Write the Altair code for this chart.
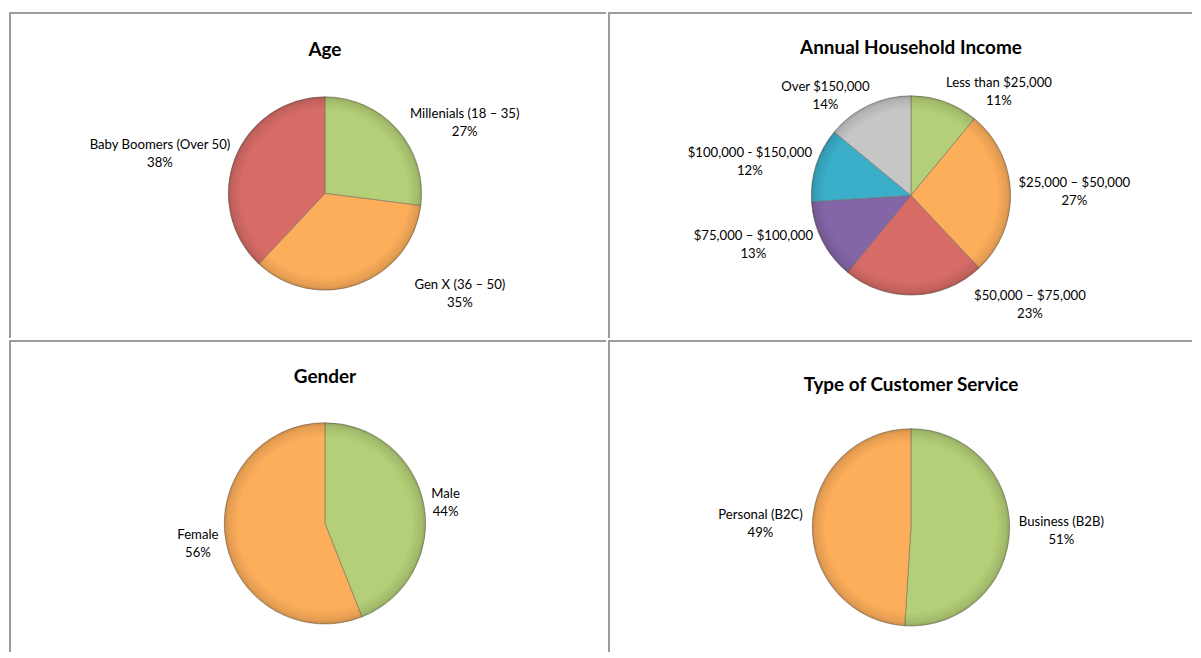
import altair as alt
import pandas as pd

# ---- data ----
age_names = ["Millenials (18 – 35)", "Gen X (36 – 50)", "Baby Boomers (Over 50)"]
age_values = [27, 35, 38]

income_names = ["Less than $25,000", "$25,000 –  $50,000", "$50,000 – $75,000",
                "$75,000 – $100,000", "$100,000 - $150,000", "Over $150,000"]
income_values = [11, 27, 23, 13, 12, 14]

gender_names = ["Male", "Female"]
gender_values = [44, 56]

service_names = ["Business (B2B)", "Personal (B2C)"]
service_values = [51, 49]

# ---- style ----
PALETTE = ["#B4CF77", "#FDAE5B", "#D76C67", "#8466A8", "#3BAFCA", "#C6C6C6"]
BORDER = "#9b9b9b"
FONT = "Lato"
LABEL_SIZE = 13.2
TITLE_SIZE = 19
CHAR_HALF = 3.0   # approx half width of one label character, px
GAP = 10          # distance of label anchor from pie rim
BOTTOM_PUSH = 65  # extra sideways shift for labels below the pie

COL_W = [599, 586]
ROW_H = [327, 313]


def panel(title, names, values, w, h, cx, cy, r, ty):
    df = pd.DataFrame({"name": names, "value": values, "idx": list(range(len(names)))})
    base = alt.Chart(df)

    one = alt.InlineData(values=[{"k": 0}])

    left = alt.Chart(one).mark_rule(color=BORDER, strokeWidth=2).encode(
        x=alt.value(1), y=alt.value(0), y2=alt.value(h))
    top = alt.Chart(one).mark_rule(color=BORDER, strokeWidth=2).encode(
        x=alt.value(0), x2=alt.value(w), y=alt.value(1))

    arcs = base.mark_arc(radius=r, stroke="#6f6a5e", strokeWidth=0.8, strokeOpacity=0.7).encode(
        x=alt.value(cx), y=alt.value(cy),
        theta=alt.Theta("value:Q", stack=True),
        order=alt.Order("idx:Q"),
        color=alt.Color("name:N", scale=alt.Scale(domain=names, range=PALETTE[:len(names)]),
                        legend=None),
    )

    shade = alt.Chart(one).mark_arc(
        radius=r, theta=0, theta2=6.2832,
        fill={"gradient": "radial", "x1": 0.5, "y1": 0.5, "r1": 0,
              "x2": 0.5, "y2": 0.5, "r2": 0.5,
              "stops": [{"offset": 0, "color": "rgba(0,0,0,0)"},
                        {"offset": 0.86, "color": "rgba(0,0,0,0)"},
                        {"offset": 0.97, "color": "rgba(0,0,0,0.10)"},
                        {"offset": 1, "color": "rgba(0,0,0,0.22)"}]},
    ).encode(x=alt.value(cx), y=alt.value(cy))

    lab = base.transform_window(
        cum="sum(value)", sort=[alt.SortField("idx")]
    ).transform_joinaggregate(
        total="sum(value)"
    ).transform_calculate(
        pct="datum.value + '%'",
        mid="(datum.cum - datum.value/2) / datum.total * 2 * PI",
    ).transform_calculate(
        hw=f"max(length(datum.name), length(datum.pct)) * {CHAR_HALF}",
        side="sin(datum.mid) >= 0 ? 1 : -1",
        low=f"{BOTTOM_PUSH} * pow(max(0, -cos(datum.mid)), 3)",
    ).transform_calculate(
        lx=f"{cx} + {r + GAP} * sin(datum.mid) + datum.side * (datum.hw + datum.low)",
        ly=f"{cy} - {r + GAP} * cos(datum.mid)",
    )
    enc = dict(x=alt.X("lx:Q", scale=None, axis=None), y=alt.Y("ly:Q", scale=None, axis=None))
    lab1 = lab.mark_text(font=FONT, fontSize=LABEL_SIZE, color="#000", dy=-9,
                         align="center", baseline="middle").encode(text="name:N", **enc)
    lab2 = lab.mark_text(font=FONT, fontSize=LABEL_SIZE, color="#000", dy=9,
                         align="center", baseline="middle").encode(text="pct:N", **enc)

    ttl = alt.Chart(one).mark_text(font=FONT, fontSize=TITLE_SIZE, fontWeight="bold",
                                   color="#000", align="center", baseline="middle").encode(
        x=alt.value(cx), y=alt.value(ty), text=alt.value(title))

    return alt.layer(left, top, arcs, shade, lab1, lab2, ttl).properties(width=w, height=h)


p_age = panel("Age", age_names, age_values, COL_W[0], ROW_H[0], 317, 182, 97, 38)
p_inc = panel("Annual Household Income", income_names, income_values, COL_W[1], ROW_H[0], 304, 184, 100, 36)
p_gen = panel("Gender", gender_names, gender_values, COL_W[0], ROW_H[1], 317, 184, 101, 37)
p_srv = panel("Type of Customer Service", service_names, service_values, COL_W[1], ROW_H[1], 304, 188, 99, 45)

row1 = alt.hconcat(p_age, p_inc, spacing=0).resolve_scale(color="independent", theta="independent")
row2 = alt.hconcat(p_gen, p_srv, spacing=0).resolve_scale(color="independent", theta="independent")

chart = alt.vconcat(row1, row2, spacing=0).resolve_scale(
    color="independent", theta="independent"
).properties(
    padding={"left": 0, "top": 2, "right": 0, "bottom": 0},
    background="white",
).configure_view(stroke=None).configure_concat(spacing=0)

chart.save("out.html", embed_options={"renderer": "svg", "actions": False})
